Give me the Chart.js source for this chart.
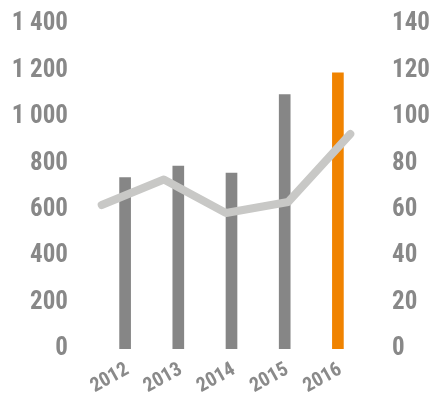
<!DOCTYPE html>
<html>
<head>
<meta charset="utf-8">
<script src="https://cdn.jsdelivr.net/npm/chart.js@4"></script>
<style>
  html, body { margin: 0; padding: 0; background: #fff; }
  #wrap { width: 433px; height: 401px; }
</style>
</head>
<body>
<div id="wrap"><canvas id="MixChart" width="433" height="401"></canvas></div>
<script>
var years = ["2012", "2013", "2014", "2015", "2016"];
var barValues = [738, 788, 758, 1096, 1190];
var lineValues = [62, 73, 58.6, 63.3, 92.6];
var barColors = ["#868686", "#868686", "#868686", "#868686", "#f08300"];

var fontFamily = "'Roboto Condensed', 'Liberation Sans Narrow', 'Arial Narrow', Roboto, sans-serif";

// keep the plot area fixed, whatever the label sizes are
function fixPadding(scale) {
    scale.paddingTop = 0;
    scale.paddingBottom = 0;
    scale.paddingLeft = 0;
    scale.paddingRight = 0;
}

var ctx = document.getElementById("MixChart").getContext('2d');
var myChart = new Chart(ctx, {
    type: 'bar',
    data: {
        labels: years,
        datasets: [{
            type: 'line',
            data: lineValues.map(function (v, i) { return { x: i, y: v }; }),
            xAxisID: 'x2',
            yAxisID: 'y2',
            borderColor: "#c8c8c6",
            borderWidth: 8,
            borderCapStyle: 'round',
            borderJoinStyle: 'round',
            pointRadius: 0,
            fill: false,
            tension: 0,
            order: 0
        }, {
            type: 'bar',
            data: barValues,
            backgroundColor: barColors,
            barThickness: 11,
            xAxisID: 'x',
            yAxisID: 'y',
            order: 1
        }]
    },
    options: {
        responsive: false,
        animation: false,
        layout: { padding: { top: 24, bottom: 0, left: 0, right: 0 } },
        plugins: {
            legend: { display: false },
            tooltip: { enabled: false }
        },
        scales: {
            x: {
                position: 'bottom',
                grid: { display: false, drawTicks: false },
                border: { display: false },
                ticks: {
                    color: "#8a8a8a",
                    font: { family: fontFamily, size: 20, weight: 'bold' },
                    minRotation: 29,
                    maxRotation: 29,
                    padding: 9,
                    labelOffset: 8
                },
                afterFit: function (scale) { scale.height = 52; fixPadding(scale); }
            },
            x2: {
                type: 'linear',
                display: false,
                position: 'bottom',
                offset: false,
                grid: { offset: false },
                min: -0.14,
                max: 4.14
            },
            y: {
                position: 'left',
                min: 0,
                max: 1400,
                grid: { display: false, drawTicks: false },
                border: { display: false },
                ticks: {
                    stepSize: 200,
                    color: "#888888",
                    padding: 25,
                    font: { family: fontFamily, size: 25, weight: 'bold' },
                    callback: function (v) { return String(v).replace(/\B(?=(\d{3})+(?!\d))/g, " "); }
                },
                afterFit: function (scale) { scale.width = 93; fixPadding(scale); }
            },
            y2: {
                position: 'right',
                min: 0,
                max: 140,
                grid: { display: false, drawTicks: false },
                border: { display: false },
                ticks: {
                    stepSize: 20,
                    color: "#888888",
                    padding: 33,
                    font: { family: fontFamily, size: 25, weight: 'bold' }
                },
                afterFit: function (scale) { scale.width = 74; fixPadding(scale); }
            }
        }
    }
});
</script>
</body>
</html>
